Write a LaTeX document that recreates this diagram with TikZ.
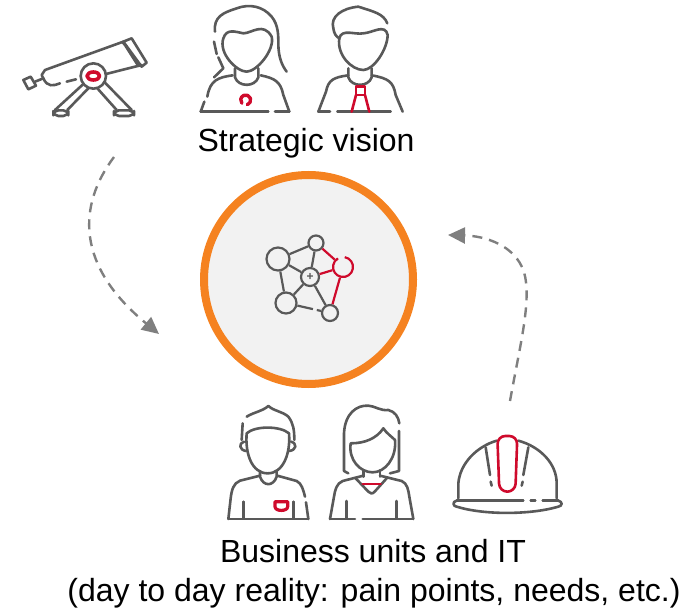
\documentclass[tikz,border=0pt]{standalone}
\usepackage{fontspec}
\setmainfont{Liberation Sans}
\usetikzlibrary{arrows.meta}
\definecolor{icongray}{HTML}{595959}
\definecolor{iconred}{HTML}{CF0A2C}
\definecolor{hubfill}{HTML}{F2F2F2}
\definecolor{huborange}{HTML}{F58220}
\definecolor{flowgray}{HTML}{7F7F7F}
\tikzset{
	icon/.style={draw=icongray,line width=2.6pt,line cap=round,line join=round},
	iconred/.style={draw=iconred,line width=2.6pt,line cap=round,line join=round},
	net/.style={circle,inner sep=0pt,line width=2.2pt,draw=icongray},
	netedge/.style={draw=icongray,line width=2.2pt},
	neteder/.style={draw=iconred,line width=2.2pt},
	flow/.style={draw=flowgray,line width=2.4pt,dash pattern=on 10pt off 7pt,-{Triangle[length=17pt,width=16pt,fill=flowgray,sep=0pt]}},
	caption/.style={inner sep=0pt,font=\fontsize{32}{38}\selectfont,text=black},
}
\begin{document}
\begin{tikzpicture}[x=1pt,y=-1pt]
	\useasboundingbox (0,0) rectangle (682,609);
	\node[circle,draw=huborange,fill=hubfill,line width=8pt,minimum size=209pt,inner sep=0pt] (hub) at (308.5,279.5) {};

	\node[net,minimum size=23pt] (n1) at (278,259) {};
	\node[net,minimum size=15pt] (n2) at (316,243) {};
	\node[circle,minimum size=20pt,inner sep=0pt,line width=2.2pt] (n3) at (343,267) {};
	\node[net,minimum size=18pt] (n4) at (310,277) {};
	\node[net,minimum size=21pt] (n5) at (286,303) {};
	\node[net,minimum size=16pt] (n6) at (330,313) {};
	\draw[neteder] (n3.center) ++(80:10pt) arc[start angle=80,end angle=-240,radius=10pt];
	\draw[netedge] (n1) -- (n2);
	\draw[netedge] (n1) -- (n4);
	\draw[netedge] (n1) -- (n5);
	\draw[netedge] (n2) -- (n4);
	\draw[netedge] (n4) -- (n5);
	\draw[netedge] (n4) -- (n6);
	\draw[netedge,dash pattern=on 16pt off 4pt on 8pt] (n5) -- (n6);
	\draw[neteder] (n2) -- (n3);
	\draw[neteder] (n4) -- (n3);
	\draw[neteder] (n6) -- (n3);
	\node[font=\bfseries\fontsize{12}{12}\selectfont,text=icongray,inner sep=0pt] (n4t) at (n4) {+};

	\begin{scope}[shift={(10,0)},scale=1/3]
		\draw[icon] (40,240) -- (62,230) -- (78,257) -- (55,268) -- cycle;
		\draw[icon] (75,245) -- (100,235);
		\draw[icon] (100,235) .. controls (112,262) and (130,258) .. (150,250);
		\draw[icon] (170,245) -- (198,238);
		\draw[icon] (100,235) -- (95,225) -- (105,210) -- (340,125);
		\draw[icon] (288,222) -- (395,195);
		\draw[icon] (340,125) -- (365,115) -- (410,188) -- (395,200) -- cycle;
		\draw[icon] (338,127) -- (345,135) -- (385,198);
		\draw[icon] (250,228) circle[radius=38];
		\draw[iconred,line width=3.6pt] (250,228) ellipse[x radius=19,y radius=12];
		\draw[icon] (217,255) -- (135,330);
		\draw[icon] (235,265) -- (172,330);
		\draw[icon] (262,265) -- (320,330);
		\draw[icon] (285,248) -- (365,330);
		\draw[icon,rounded corners=5pt] (130,331) rectangle (175,348);
		\draw[icon,rounded corners=5pt] (312,331) rectangle (372,348);
	\end{scope}

	\begin{scope}[shift={(10,0)},scale=1/3]
		\draw[icon] (615,95) .. controls (610,50) and (640,38) .. (680,25) .. controls (720,10) and (760,20) .. (785,50) .. controls (805,75) and (805,105) .. (805,130) .. controls (805,170) and (815,195) .. (830,215);
		\draw[icon] (612,125) -- (620,162);
		\draw[icon] (625,172) -- (640,205) -- (612,232);
		\draw[icon] (640,115) .. controls (650,85) and (675,95) .. (700,100) .. controls (725,100) and (760,65) .. (785,110) .. controls (795,150) and (740,215) .. (710,215) .. controls (680,215) and (625,160) .. (640,115) -- cycle;
		\draw[icon] (675,205) -- (675,232) .. controls (685,262) and (735,262) .. (745,232) -- (745,205);
		\draw[icon] (668,226) .. controls (625,232) and (600,240) .. (592,290);
		\draw[icon] (583,305) -- (572,335);
		\draw[icon] (752,226) .. controls (795,235) and (812,245) .. (820,285) -- (838,335);
		\draw[icon] (572,335) -- (775,335);
		\draw[icon] (795,335) -- (838,335);
		\draw[iconred,line width=3.4pt] (707,300) ++(70:15) arc[start angle=70,end angle=-220,radius=15];
	\end{scope}

	\begin{scope}[shift={(300,0)},scale=1/3]
		\draw[icon] (262,70) .. controls (250,40) and (220,35) .. (175,20) .. controls (125,25) and (90,50) .. (100,85) .. controls (102,100) and (108,110) .. (118,115);
		\draw[icon] (118,115) .. controls (125,85) and (165,105) .. (190,100) .. controls (220,98) and (255,70) .. (263,105) .. controls (262,150) and (220,210) .. (190,210) .. controls (155,210) and (110,165) .. (118,115) -- cycle;
		\draw[icon] (145,205) -- (145,232) .. controls (155,262) and (205,262) .. (215,232) -- (215,205);
		\draw[icon] (145,226) .. controls (100,232) and (85,240) .. (78,275) -- (55,335);
		\draw[icon] (215,226) .. controls (265,235) and (280,245) .. (287,285) -- (308,335);
		\draw[icon] (55,335) -- (90,335);
		\draw[icon] (112,335) -- (272,335);
		\draw[iconred] (168,260) -- (195,260) -- (195,285) -- (168,285) -- cycle;
		\draw[iconred] (168,285) -- (155,335);
		\draw[iconred] (195,285) -- (208,335);
	\end{scope}

	\begin{scope}[shift={(220,395)},scale=1/3]
		\draw[icon] (80,65) .. controls (105,50) and (125,50) .. (145,33) .. controls (165,50) and (185,48) .. (205,65) .. controls (220,85) and (223,105) .. (223,135);
		\draw[icon] (68,85) -- (65,135);
		\draw[icon] (72,140) .. controls (55,145) and (58,165) .. (78,168);
		\draw[icon] (213,140) .. controls (232,145) and (230,165) .. (208,168);
		\draw[icon] (80,115) .. controls (105,92) and (180,92) .. (207,115) .. controls (212,175) and (190,235) .. (143,235) .. controls (95,235) and (75,175) .. (80,115) -- cycle;
		\draw[icon] (120,230) -- (120,245) .. controls (130,275) and (160,275) .. (170,245) -- (170,230);
		\draw[icon] (120,242) -- (60,257) .. controls (40,265) and (35,285) .. (32,310) -- (25,372);
		\draw[icon] (172,242) -- (230,258) .. controls (245,265) and (250,285) .. (255,305);
		\draw[icon] (258,322) -- (265,372);
		\draw[icon] (25,372) -- (265,372);
		\draw[icon] (70,320) -- (70,370);
		\draw[icon] (220,320) -- (220,370);
		\draw[iconred,line width=3.2pt] (165,320) -- (203,320) -- (203,335) .. controls (203,350) and (165,350) .. (165,335) -- cycle;
	\end{scope}

	\begin{scope}[shift={(220,395)},scale=1/3]
		\draw[icon] (385,235) -- (372,228) -- (372,115) .. controls (375,55) and (410,30) .. (445,32) .. controls (465,33) and (480,48) .. (505,45) .. controls (525,50) and (535,65) .. (538,85);
		\draw[icon] (537,108) -- (537,228) -- (510,235);
		\draw[icon] (392,145) .. controls (435,145) and (470,130) .. (490,100) .. controls (500,115) and (515,125) .. (525,135) .. controls (530,190) and (495,232) .. (458,232) .. controls (420,232) and (385,195) .. (392,145) -- cycle;
		\draw[icon] (430,226) -- (430,245);
		\draw[icon] (480,226) -- (480,245);
		\draw[icon] (430,242) -- (368,258) .. controls (350,265) and (345,285) .. (342,305) -- (330,372);
		\draw[icon] (480,242) -- (545,258) .. controls (562,265) and (565,285) .. (568,305) -- (580,372);
		\draw[icon] (407,250) -- (445,290) .. controls (450,297) and (458,297) .. (464,290) -- (500,250);
		\draw[iconred] (428,267) -- (482,267);
		\draw[icon] (330,372) -- (405,372);
		\draw[icon] (428,372) -- (578,372);
		\draw[icon] (380,318) -- (380,370);
		\draw[icon] (530,318) -- (530,370);
	\end{scope}

	\begin{scope}[shift={(440,220)},scale=1/3]
		\draw[icon] (55,835) -- (55,790) .. controls (60,730) and (110,680) .. (170,662);
		\draw[icon] (235,662) .. controls (300,680) and (350,730) .. (350,790) -- (350,835);
		\draw[icon] (50,842) -- (250,842);
		\draw[icon] (272,842) -- (286,842);
		\draw[icon] (308,842) -- (355,842);
		\draw[icon] (50,842) .. controls (35,845) and (40,860) .. (50,860) .. controls (130,885) and (270,885) .. (355,860) .. controls (368,858) and (368,845) .. (355,842);
		\draw[icon] (137,682) -- (150,765);
		\draw[icon] (152,785) -- (155,797);
		\draw[icon] (265,682) -- (250,765);
		\draw[icon] (248,785) -- (245,797);
		\draw[iconred,rounded corners=8pt] (172,648) -- (232,648) -- (226,815) -- (178,815) -- cycle;
	\end{scope}

	\coordinate (visionout) at (114,157);
	\coordinate (unitsin) at (159,334);
	\coordinate (unitsout) at (510,401);
	\coordinate (hubin) at (448,235);
	\draw[flow] (visionout) .. controls (78,205) and (75,265) .. (unitsin);
	\draw[flow] (unitsout) .. controls (520,345) and (532,300) .. (524,272) .. controls (515,245) and (485,236) .. (hubin);

	\node[caption,anchor=base] (vision) at (306,152) {Strategic vision};
	\node[caption,anchor=base] (units) at (373,562) {Business units and IT};
	\node[caption,anchor=base] (reality) at (374,601) {(day to day reality: pain points, needs, etc.)};
\end{tikzpicture}
\end{document}
